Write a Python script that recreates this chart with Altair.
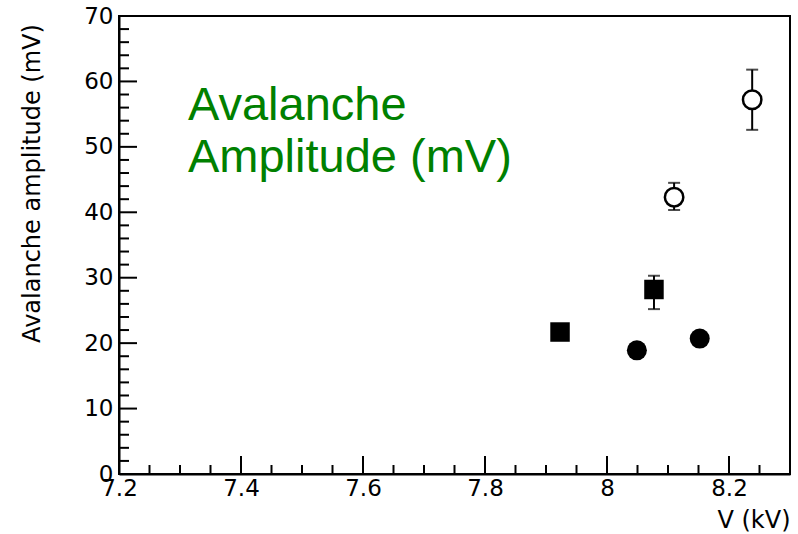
import altair as alt
import pandas as pd

# Measured avalanche amplitudes versus applied voltage
voltage_kv = [7.923, 8.077, 8.049, 8.152, 8.110, 8.238]
amplitude_mv = [21.7, 28.2, 18.9, 20.7, 42.3, 57.2]
err_low = [None, 25.2, None, None, 40.35, 52.6]
err_high = [None, 30.3, None, None, 44.5, 61.8]
marker = ["square", "square", "circle", "circle", "open", "open"]

# Axis tick positions
x_major = [7.2, 7.4, 7.6, 7.8, 8.0, 8.2]
x_minor = [7.25, 7.3, 7.35, 7.45, 7.5, 7.55, 7.65, 7.7, 7.75, 7.85, 7.9, 7.95,
           8.05, 8.1, 8.15, 8.25]
y_major = [0, 10, 20, 30, 40, 50, 60, 70]
y_minor = [v for v in range(0, 71, 2) if v % 10 != 0]

label_lines = ["Avalanche", "Amplitude (mV)"]
label_pos = {"V": 7.313, "amp": 54.1}

W, H = 671, 458
FONT = "DejaVu Sans"

df = pd.DataFrame({
    "V": voltage_kv, "amp": amplitude_mv,
    "lo": err_low, "hi": err_high, "marker": marker,
})

xs = alt.Scale(domain=[7.2, 8.3], nice=False, zero=False)
ys = alt.Scale(domain=[0, 70], nice=False)

x_axis = alt.Axis(
    values=x_major, format="~g", title="V (kV)", grid=False, ticks=False,
    labelFont=FONT, labelFontSize=23, labelColor="black", labelPadding=3,
    labelFlush=False, labelOverlap=False, domainColor="black", domainWidth=2,
    titleFont=FONT, titleFontSize=24, titleFontWeight="normal", titleColor="black",
    titleX=W, titleY=53, titleAlign="right", titleBaseline="alphabetic",
)
y_axis = alt.Axis(
    values=y_major, title="Avalanche amplitude (mV)", grid=False, ticks=False,
    labelFont=FONT, labelFontSize=23, labelColor="black", labelPadding=6,
    labelFlush=False, labelOverlap=False, domainColor="black", domainWidth=2,
    titleFont=FONT, titleFontSize=24, titleFontWeight="normal", titleColor="black",
    titleAngle=270, titleX=-80, titleY=167, titleAlign="center",
    titleBaseline="alphabetic",
)

base = alt.Chart(df)

# inward tick marks, ROOT style
def x_ticks(vals, length):
    return alt.Chart(pd.DataFrame({"t": vals})).mark_rule(
        color="black", strokeWidth=2
    ).encode(
        x=alt.X("t:Q", scale=xs, axis=x_axis),
        y=alt.value(H), y2=alt.value(H - length),
    )

def y_ticks(vals, length):
    return alt.Chart(pd.DataFrame({"t": vals})).mark_rule(
        color="black", strokeWidth=2
    ).encode(
        y=alt.Y("t:Q", scale=ys, axis=y_axis),
        x=alt.value(0), x2=alt.value(length),
    )

errs = base.transform_filter("isValid(datum.lo)")
err_rule = errs.mark_rule(color="black", strokeWidth=2).encode(
    x=alt.X("V:Q", scale=xs, axis=x_axis),
    y=alt.Y("lo:Q", scale=ys, axis=y_axis),
    y2="hi:Q",
)
cap_lo = errs.mark_tick(color="black", orient="horizontal", size=12, thickness=2).encode(
    x=alt.X("V:Q", scale=xs, axis=x_axis), y=alt.Y("lo:Q", scale=ys, axis=y_axis)
)
cap_hi = errs.mark_tick(color="black", orient="horizontal", size=12, thickness=2).encode(
    x=alt.X("V:Q", scale=xs, axis=x_axis), y=alt.Y("hi:Q", scale=ys, axis=y_axis)
)

enc = dict(x=alt.X("V:Q", scale=xs, axis=x_axis), y=alt.Y("amp:Q", scale=ys, axis=y_axis))
squares = base.transform_filter("datum.marker == 'square'").mark_point(
    shape="square", filled=True, color="black", size=380, opacity=1
).encode(**enc)
circles = base.transform_filter("datum.marker == 'circle'").mark_point(
    shape="circle", filled=True, color="black", size=400, opacity=1
).encode(**enc)
opens = base.transform_filter("datum.marker == 'open'").mark_point(
    shape="circle", filled=True, fill="white", stroke="black", strokeWidth=2.5,
    size=340, opacity=1
).encode(**enc)

note = alt.Chart(pd.DataFrame([{"V": label_pos["V"], "amp": label_pos["amp"],
                                "txt": label_lines}])).mark_text(
    font="Liberation Sans", fontSize=47, color="#008000", align="left",
    baseline="alphabetic", lineHeight=52,
).encode(
    x=alt.X("V:Q", scale=xs, axis=x_axis), y=alt.Y("amp:Q", scale=ys, axis=y_axis),
    text="txt",
)

chart = alt.layer(
    x_ticks(x_major, 18), x_ticks(x_minor, 9),
    y_ticks(y_major, 18), y_ticks(y_minor, 10),
    err_rule, cap_lo, cap_hi, squares, circles, opens, note,
).properties(
    width=W, height=H,
    autosize=alt.AutoSizeParams(type="none"),
    padding={"left": 119, "top": 16, "right": 8, "bottom": 60},
    background="white",
).configure_view(stroke="black", strokeWidth=2)

chart.save("out.html", embed_options={"renderer": "svg", "actions": False})
